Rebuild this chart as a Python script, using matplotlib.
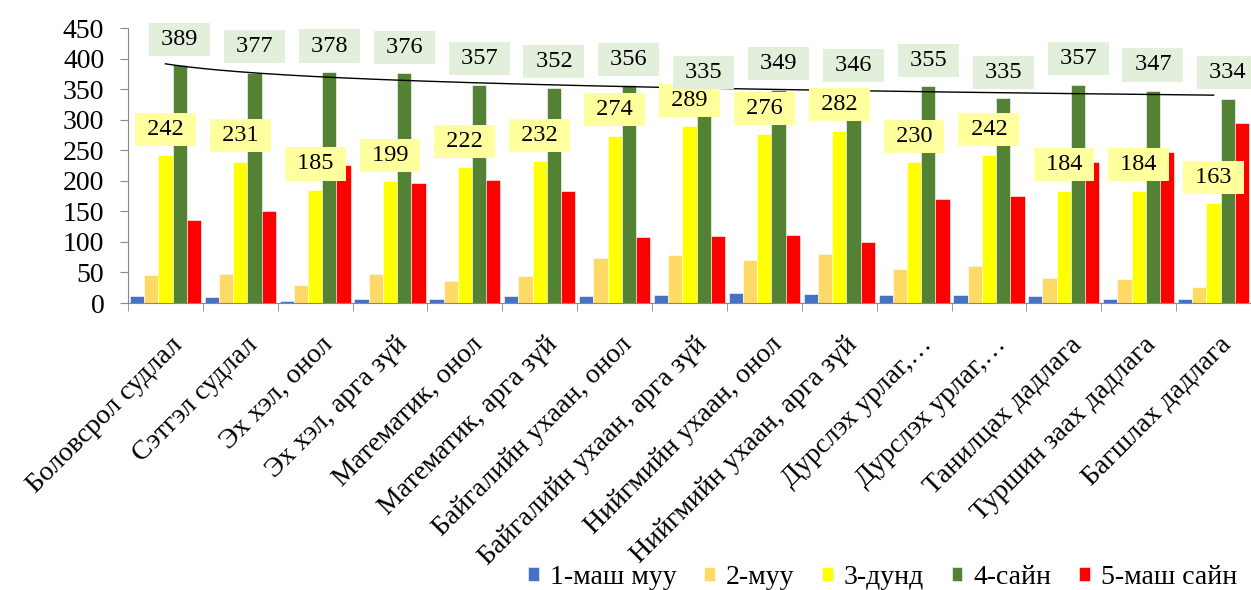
import matplotlib.pyplot as plt
import matplotlib.transforms as mtransforms
import numpy as np

plt.rcParams["font.family"] = ["Liberation Serif", "DejaVu Serif"]

# subject names (Mongolian) and counts per rating
categories = [
    "Боловсрол судлал", "Сэтгэл судлал", "Эх хэл, онол", "Эх хэл, арга зүй",
    "Математик, онол", "Математик, арга зүй", "Байгалийн ухаан, онол",
    "Байгалийн ухаан, арга зүй", "Нийгмийн ухаан, онол",
    "Нийгмийн ухаан, арга зүй", "Дурслэх урлаг,…", "Дурслэх урлаг,…",
    "Танилцах дадлага", "Туршин заах дадлага", "Багшлах дадлага",
]
very_bad = [11, 10, 4, 6, 7, 12, 12, 13, 16, 14, 13, 13, 11, 7, 6]
bad = [46, 47, 30, 47, 36, 45, 74, 78, 71, 81, 56, 61, 41, 39, 27]
average = [242, 231, 185, 199, 222, 232, 274, 289, 276, 282, 230, 242, 184, 184, 163]
good = [389, 377, 378, 376, 357, 352, 356, 335, 349, 346, 355, 335, 357, 347, 334]
very_good = [136, 150, 226, 196, 202, 183, 108, 109, 111, 100, 170, 175, 231, 247, 294]

series = [very_bad, bad, average, good, very_good]
names = ["1-маш муу", "2-муу", "3-дунд", "4-сайн", "5-маш сайн"]
colors = ["#4472C4", "#FFD966", "#FFFF00", "#548235", "#FF0000"]

fig = plt.figure(figsize=(12.51, 5.90), dpi=100)
ax = fig.add_axes([0.1023, 0.4864, 0.8977, 0.4661])

x = np.arange(len(categories))
w = 0.19
for i, (vals, name, col) in enumerate(zip(series, names, colors)):
    ax.bar(x + (i - 2) * w, vals, w, color=col, label=name,
           edgecolor="white", linewidth=0.4)

# value labels for 3-дунд and 4-сайн
for vals, idx, bg in [(average, 2, "#FFFF9E"), (good, 3, "#E2EFDA")]:
    for xi, v in zip(x, vals):
        ax.annotate(f" {v} ", (xi + (idx - 2) * w, v), xytext=(0, 26),
                    textcoords="offset pixels", ha="center", va="center",
                    fontsize=17.5,
                    bbox=dict(boxstyle="square,pad=0.25", fc=bg, ec="none"),
                    zorder=5)

# logarithmic trend of 4-сайн
k, c = np.polyfit(np.log(x + 1), good, 1)
xt = np.linspace(0, len(categories) - 1, 200)
ax.plot(xt, k * np.log(xt + 1) + c, color="black", lw=1, zorder=4)

ax.set_xlim(-0.5, len(categories) - 0.5)
ax.set_ylim(0, 450)
ax.set_yticks(range(0, 451, 50))
ax.tick_params(axis="y", labelsize=20, length=6, color="#888888", pad=11)

ax.set_xticks(x)
ax.set_xticklabels(categories, rotation=45, ha="right", va="top",
                   rotation_mode="anchor", fontsize=20)
ax.tick_params(axis="x", which="major", length=0, pad=21)
shift = mtransforms.ScaledTranslation(0.05, 0, fig.dpi_scale_trans)
for lab in ax.get_xticklabels():
    lab.set_transform(lab.get_transform() + shift)
ax.set_xticks(np.arange(-0.5, len(categories), 1), minor=True)
ax.tick_params(axis="x", which="minor", length=6, color="#888888")

for s in ["top", "right"]:
    ax.spines[s].set_visible(False)
for s in ["left", "bottom"]:
    ax.spines[s].set_color("#888888")

fig.legend(loc="center right", bbox_to_anchor=(0.989, 0.021), ncol=5,
           frameon=False, fontsize=20, handlelength=0.38, handleheight=0.38,
           columnspacing=1.0, handletextpad=0.4, borderpad=0,
           borderaxespad=0)

fig.savefig("out.png", dpi=100)
